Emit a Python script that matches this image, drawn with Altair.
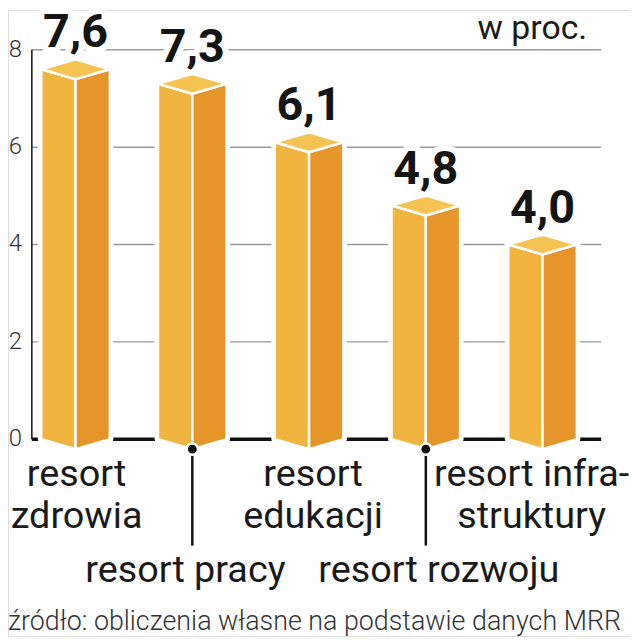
import altair as alt
import pandas as pd

# ---------------- data ----------------
categories = ["resort\nzdrowia", "resort pracy", "resort\nedukacji",
              "resort rozwoju", "resort infra-\nstruktury"]
values = [7.6, 7.3, 6.1, 4.8, 4.0]
value_labels = ["7,6", "7,3", "6,1", "4,8", "4,0"]
label_row = [0, 1, 0, 1, 0]          # 0 = directly under bar, 1 = lower row with pointer
y_ticks = [0, 2, 4, 6, 8]
unit_label = "w proc."
source_note = "źródło: obliczenia własne na podstawie danych MRR"

# ---------------- layout ----------------
W, H = 626, 630
X_STEP = 117.5      # px between bar centres
X_FIRST = 68        # px of first bar centre
Y_UNIT = 49         # px per unit
Y_ZERO = 432        # px of zero line
x_dom = [-X_FIRST / X_STEP, (W - X_FIRST) / X_STEP]
y_dom = [-(H - Y_ZERO) / Y_UNIT, Y_ZERO / Y_UNIT]
AX = (24 - X_FIRST) / X_STEP      # axis position
END = (597 - X_FIRST) / X_STEP    # end of grid lines
BW = 34.5 / X_STEP                # half width of the box
D = 10 / Y_UNIT                   # perspective offset
CAT_DX = [1, -7, 4, 13, -11]      # px shift of category labels

FONT = "Roboto"
xs = alt.Scale(domain=x_dom, nice=False, zero=False)
ys = alt.Scale(domain=y_dom, nice=False, zero=False)

# faces of pseudo-3D boxes
rows = []
for i, v in enumerate(values):
    rows += [
        dict(key=f"{i}f", face="front", x=i - BW, y=v, y2=0),
        dict(key=f"{i}f", face="front", x=i, y=v - D, y2=-D),
        dict(key=f"{i}s", face="side", x=i, y=v - D, y2=-D),
        dict(key=f"{i}s", face="side", x=i + BW, y=v, y2=0),
        dict(key=f"{i}t", face="top", x=i - BW, y=v, y2=v),
        dict(key=f"{i}t", face="top", x=i, y=v + D, y2=v - D),
        dict(key=f"{i}t", face="top", x=i + BW, y=v, y2=v),
    ]
faces = pd.DataFrame(rows)

n = len(values)
bars_df = pd.DataFrame({"x": list(range(n)), "v": values,
                        "lab": value_labels, "cat": categories,
                        "lx": [i + CAT_DX[i] / X_STEP for i in range(n)],
                        "row": label_row, "bottom": [-D] * n})
grid_df = pd.DataFrame({"y": y_ticks, "x0": AX, "x1": END})
axis_df = pd.DataFrame({"x": [AX], "y0": [min(y_ticks)], "y1": [max(y_ticks)]})
text_df = pd.DataFrame({"unit": [unit_label], "src": [source_note]})

X = lambda f: alt.X(f, scale=xs, axis=None)
Y = lambda f: alt.Y(f, scale=ys, axis=None, stack=None)

grid = alt.Chart(grid_df).transform_filter("datum.y > 0").mark_rule(
    color="#9a9a9a", strokeWidth=1.5).encode(x=X("x0:Q"), x2="x1:Q", y=Y("y:Q"))
base0 = alt.Chart(grid_df).transform_filter("datum.y == 0").mark_rule(
    color="#111", strokeWidth=3.5).encode(x=X("x0:Q"), x2="x1:Q", y=Y("y:Q"))
yaxis = alt.Chart(axis_df).mark_rule(color="#111", strokeWidth=1.5).encode(
    x=X("x:Q"), y=Y("y0:Q"), y2="y1:Q")
ticklab = alt.Chart(grid_df).mark_text(
    align="right", baseline="middle", font=FONT, fontSize=24, fontWeight=300,
    color="#333").encode(x=alt.value(14), y=Y("y:Q"), text="y:Q")

face_color = alt.Color("face:N", legend=None,
                       scale=alt.Scale(domain=["front", "side", "top"],
                                       range=["#F1B43F", "#E69529", "#F5C352"]))
halo = alt.Chart(faces).mark_area(stroke="white", strokeWidth=7, strokeJoin="round",
                                  opacity=1).encode(
    x=X("x:Q"), y=Y("y:Q"), y2="y2:Q", detail="key:N", color=face_color)
boxes = alt.Chart(faces).mark_area(stroke="white", strokeWidth=2.5, opacity=1).encode(
    x=X("x:Q"), y=Y("y:Q"), y2="y2:Q", detail="key:N", color=face_color)

conn = alt.Chart(bars_df).transform_filter("datum.row == 1").mark_rule(
    color="#111", strokeWidth=2.5).encode(x=X("x:Q"), y=Y("bottom:Q"), y2=alt.value(539))
dots = alt.Chart(bars_df).transform_filter("datum.row == 1").mark_circle(
    fill="#111", stroke="white", strokeWidth=2.5, size=130, opacity=1).encode(
    x=X("x:Q"), y=Y("bottom:Q"))

vhalo = alt.Chart(bars_df).mark_text(
    baseline="alphabetic", align="center", dy=-22, font=FONT, fontSize=47,
    fontWeight="bold", color="white", stroke="white", strokeWidth=12,
    strokeJoin="round").encode(x=X("x:Q"), y=Y("v:Q"), text="lab:N")
vlab = alt.Chart(bars_df).mark_text(
    baseline="alphabetic", align="center", dy=-22, font=FONT, fontSize=47,
    fontWeight="bold", color="#151515").encode(x=X("x:Q"), y=Y("v:Q"), text="lab:N")

cat_up = alt.Chart(bars_df).transform_filter("datum.row == 0").mark_text(
    baseline="alphabetic", align="center", lineBreak="\n", lineHeight=42,
    font=FONT, fontSize=38, color="#1a1a1a").encode(
    x=X("lx:Q"), y=alt.value(479), text="cat:N")
cat_low = alt.Chart(bars_df).transform_filter("datum.row == 1").mark_text(
    baseline="alphabetic", align="center", font=FONT, fontSize=38,
    color="#1a1a1a").encode(x=X("lx:Q"), y=alt.value(576), text="cat:N")

unit = alt.Chart(text_df).mark_text(
    align="right", baseline="alphabetic", font=FONT, fontSize=34,
    color="#1a1a1a").encode(x=alt.value(583), y=alt.value(29), text="unit:N")
src = alt.Chart(text_df).mark_text(
    align="left", baseline="alphabetic", font=FONT, fontSize=27, fontWeight=300,
    color="#333").encode(x=alt.value(0), y=alt.value(624), text="src:N")

chart = alt.layer(grid, base0, yaxis, ticklab, halo, boxes, conn, dots,
                  vhalo, vlab, cat_up, cat_low, unit, src).properties(
    width=W, height=H, padding=0,
    autosize=alt.AutoSizeParams(type="none")
).configure_view(strokeWidth=0).configure(background="white")

chart.save("out.html", embed_options={"renderer": "svg", "actions": False})
